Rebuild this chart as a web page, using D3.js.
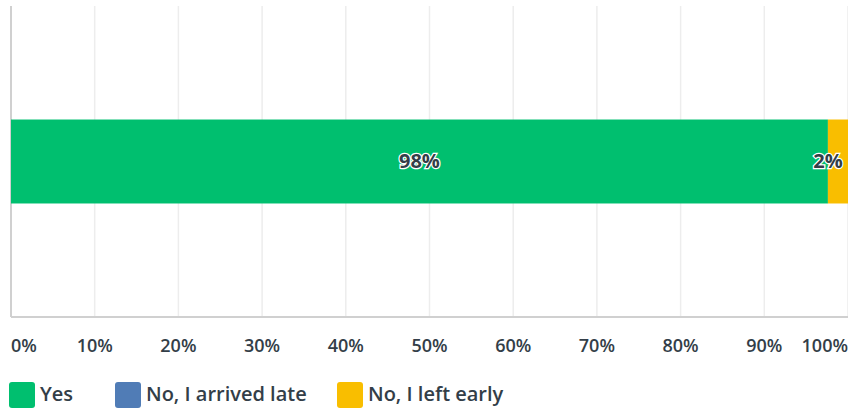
<!DOCTYPE html>
<html>
<head>
<meta charset="utf-8">
<script src="https://cdn.jsdelivr.net/npm/d3@7"></script>
<style>
  body { margin: 0; background: #fff; }
  svg { display: block; font-family: "Open Sans", "Noto Sans", sans-serif; }
</style>
</head>
<body>
<div id="chart"></div>
<script>
// data
const categories = ["Yes", "No, I arrived late", "No, I left early"];
const values = [97.6, 0, 2.4];
const labels = ["98%", "", "2%"];
const colors = ["#00bf6f", "#507cb6", "#f9be00"];
const ticks = [0, 10, 20, 30, 40, 50, 60, 70, 80, 90, 100];

const width = 848, height = 410;
const plotLeft = 11, plotRight = 848, plotTop = 6, plotBottom = 317;

const svg = d3.select("#chart").append("svg")
  .attr("width", width)
  .attr("height", height);

const x = d3.scaleLinear().domain([0, 100]).range([plotLeft, plotRight]);
const y = d3.scaleBand().domain(["row"]).range([plotTop, plotBottom]).paddingInner(0.73).paddingOuter(0.365);

// gridlines
svg.append("g")
  .selectAll("line")
  .data(ticks.slice(1))
  .enter()
  .append("line")
  .attr("x1", d => x(d)).attr("x2", d => x(d))
  .attr("y1", plotTop).attr("y2", plotBottom)
  .attr("stroke", "#ededed")
  .attr("stroke-width", 1.5);

// axis lines
svg.append("line")
  .attr("x1", plotLeft).attr("x2", plotLeft)
  .attr("y1", plotTop).attr("y2", plotBottom)
  .attr("stroke", "#d0d0d0").attr("stroke-width", 2);
svg.append("line")
  .attr("x1", plotLeft).attr("x2", plotRight)
  .attr("y1", plotBottom).attr("y2", plotBottom)
  .attr("stroke", "#d0d0d0").attr("stroke-width", 2);

// stacked segments
let acc = 0;
const segs = values.map((v, i) => {
  const s = { start: acc, end: acc + v, color: colors[i], label: labels[i] };
  acc += v;
  return s;
});

svg.append("g")
  .selectAll("rect")
  .data(segs.filter(d => d.end > d.start))
  .enter()
  .append("rect")
  .attr("x", d => x(d.start))
  .attr("width", d => x(d.end) - x(d.start))
  .attr("y", y("row"))
  .attr("height", y.bandwidth())
  .attr("fill", d => d.color);

// value labels with white halo
svg.append("g")
  .selectAll("text")
  .data(segs.filter(d => d.label))
  .enter()
  .append("text")
  .attr("x", d => Math.min((x(d.start) + x(d.end)) / 2, plotRight - 20))
  .attr("y", y("row") + y.bandwidth() / 2 - 1)
  .attr("dy", "0.35em")
  .attr("text-anchor", "middle")
  .attr("font-size", 20)
  .attr("font-weight", 700)
  .attr("fill", "#333e48")
  .attr("stroke", "#fff")
  .attr("stroke-width", 2.5)
  .attr("paint-order", "stroke")
  .text(d => d.label);

// tick labels
svg.append("g")
  .selectAll("text")
  .data(ticks)
  .enter()
  .append("text")
  .attr("x", d => d === 0 ? plotLeft : (d === 100 ? plotRight : x(d)))
  .attr("y", 352)
  .attr("text-anchor", d => d === 0 ? "start" : (d === 100 ? "end" : "middle"))
  .attr("font-size", 18)
  .attr("font-weight", 600)
  .attr("fill", "#333e48")
  .text(d => d + "%");

// legend
const legendX = [9, 115, 337];
const lg = svg.append("g")
  .selectAll("g")
  .data(categories)
  .enter()
  .append("g")
  .attr("transform", (d, i) => "translate(" + legendX[i] + ",382)");
lg.append("rect")
  .attr("width", 26).attr("height", 26)
  .attr("rx", 3)
  .attr("fill", (d, i) => colors[i]);
lg.append("text")
  .attr("x", 31)
  .attr("y", 19)
  .attr("font-size", 20)
  .attr("font-weight", 600)
  .attr("fill", "#333e48")
  .text(d => d);
</script>
</body>
</html>
